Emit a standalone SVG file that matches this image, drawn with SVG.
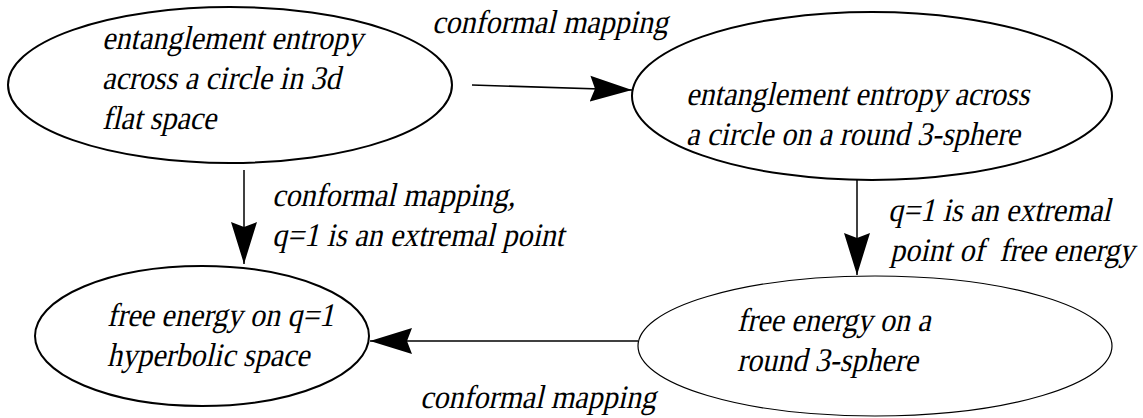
<svg xmlns="http://www.w3.org/2000/svg" width="1143" height="418" viewBox="0 0 1143 418">
<style>
text{font-family:"Liberation Serif","Times New Roman",serif;font-size:30px;fill:#000}
.n{fill:#fff;stroke:#000;stroke-width:2}
.thin{stroke-width:1.2}
.e{stroke:#000;stroke-width:1.5;fill:none}
</style>
<defs>
<marker id="ah" markerUnits="userSpaceOnUse" markerWidth="44" markerHeight="30" refX="42" refY="14" orient="auto">
<path d="M0,1 L42,14 L0,27 L5,14 Z" fill="#000"/>
</marker>
</defs>
<rect width="1143" height="418" fill="#fff"/>
<g id="n1">
<ellipse class="n" cx="230" cy="85" rx="222" ry="78"/>
<text transform="translate(102,49) scale(1,1.1) skewX(-14)">entanglement entropy</text>
<text transform="translate(102,89) scale(1,1.1) skewX(-14)">across a circle in 3d</text>
<text transform="translate(102,129) scale(1,1.1) skewX(-14)">flat space</text>
</g>
<g id="n2">
<ellipse class="n" cx="872" cy="96" rx="240" ry="84"/>
<text transform="translate(686,105) scale(1,1.1) skewX(-14)">entanglement entropy across</text>
<text transform="translate(686,145) scale(1,1.1) skewX(-14)">a circle on a round 3-sphere</text>
</g>
<g id="n3">
<ellipse class="n" cx="202" cy="336" rx="167" ry="70"/>
<text transform="translate(107,326) scale(1,1.1) skewX(-14)">free energy on q=1</text>
<text transform="translate(107,366) scale(1,1.1) skewX(-14)">hyperbolic space</text>
</g>
<g id="n4">
<ellipse class="n thin" cx="875" cy="346" rx="237" ry="70"/>
<text transform="translate(737,331) scale(1,1.1) skewX(-14)">free energy on a</text>
<text transform="translate(737,371) scale(1,1.1) skewX(-14)">round 3-sphere</text>
</g>
<g id="edges">
<path class="e" d="M472,85 L632,90" marker-end="url(#ah)"/>
<path class="e" d="M244,170 L244,264" marker-end="url(#ah)"/>
<path class="e" d="M857,180 L857,275" marker-end="url(#ah)"/>
<path class="e" d="M638,341 L370,341" marker-end="url(#ah)"/>
<text transform="translate(432,33) scale(1,1.1) skewX(-14)">conformal mapping</text>
<text transform="translate(272,206) scale(1,1.1) skewX(-14)">conformal mapping,</text>
<text transform="translate(272,246) scale(1,1.1) skewX(-14)">q=1 is an extremal point</text>
<text transform="translate(888,221) scale(1,1.1) skewX(-14)">q=1 is an extremal</text>
<text transform="translate(890,261) scale(1,1.1) skewX(-14)" xml:space="preserve">point of  free energy</text>
<text transform="translate(420,408) scale(1,1.1) skewX(-14)">conformal mapping</text>
</g>
</svg>
